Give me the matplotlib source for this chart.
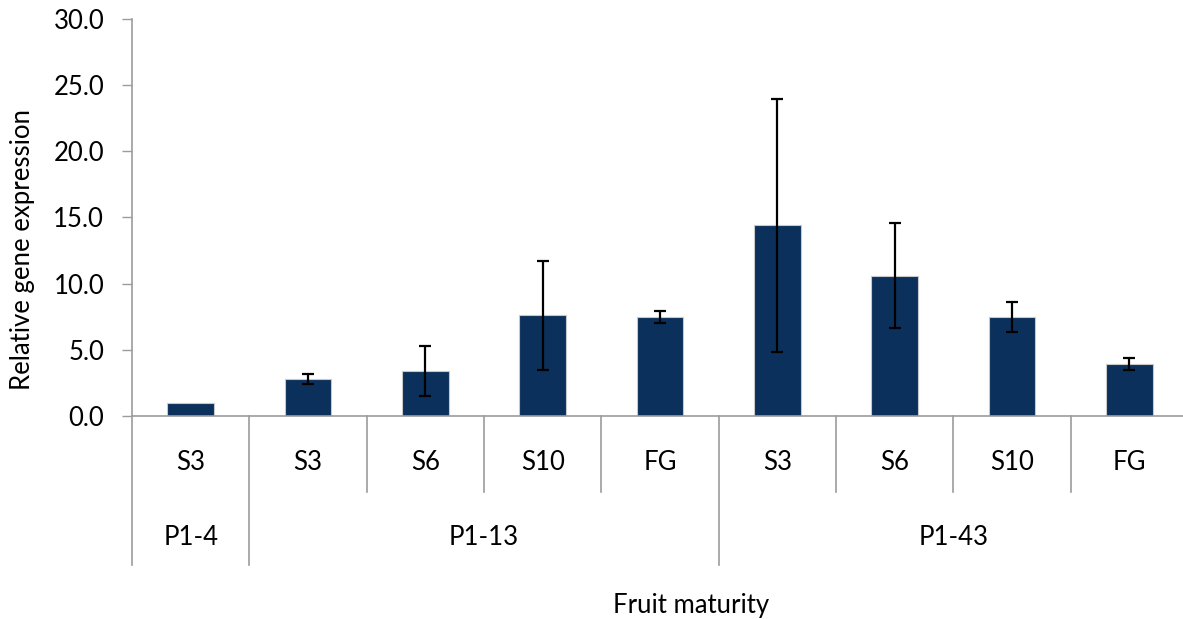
import matplotlib.pyplot as plt
from matplotlib.ticker import FormatStrFormatter

plt.rcParams["font.family"] = ["Lato", "DejaVu Sans"]

# Expression per line and maturity stage
stages = ["S3", "S3", "S6", "S10", "FG", "S3", "S6", "S10", "FG"]
groups = ["P1-4", "P1-13", "P1-43"]
group_sizes = [1, 4, 4]
expression = [1.0, 2.8, 3.4, 7.6, 7.5, 14.4, 10.6, 7.5, 3.9]
errors = [0.0, 0.35, 1.9, 4.15, 0.45, 9.55, 3.95, 1.13, 0.45]

BAR_COLOR = "#0b305c"
AXIS_COLOR = "#9c9c9c"
FS = 18.5

fig = plt.figure(figsize=(11.83, 6.19), dpi=100)
ax = fig.add_axes([132 / 1183, 203 / 619, 1056 / 1183, 397 / 619])

x = [i + 0.5 for i in range(len(stages))]
ax.bar(x, expression, width=0.4, color=BAR_COLOR, edgecolor="#c8c8c8",
       linewidth=0.8, zorder=2)

# error bars only where a spread was measured
ex = [xi for xi, e in zip(x, errors) if e > 0]
ey = [v for v, e in zip(expression, errors) if e > 0]
ee = [e for e in errors if e > 0]
ax.errorbar(ex, ey, yerr=ee, fmt="none", ecolor="black",
            elinewidth=1.6, capsize=4, capthick=1.6, zorder=3)

ax.set_xlim(0, len(stages))
ax.set_ylim(0, 30)
ax.set_yticks(range(0, 31, 5))
ax.yaxis.set_major_formatter(FormatStrFormatter("%.1f"))
ax.tick_params(axis="y", direction="out", length=7, width=1, color=AXIS_COLOR,
               labelsize=FS, pad=13)
ax.set_xticks([])

for side in ["top", "right"]:
    ax.spines[side].set_visible(False)
for side in ["left", "bottom"]:
    ax.spines[side].set_color(AXIS_COLOR)
    ax.spines[side].set_linewidth(1.2)

# Two-level category axis below the plot
trans = ax.get_xaxis_transform()
short_y, long_y = -0.191, -0.375
bounds = [0]
for n in group_sizes:
    bounds.append(bounds[-1] + n)
for i in range(len(stages) + 1):
    y_end = long_y if i in bounds else short_y
    ax.plot([i, i], [0, y_end], color=AXIS_COLOR, lw=1.2, transform=trans,
            clip_on=False)

for xi, s in zip(x, stages):
    ax.text(xi, -0.118, s, transform=trans, ha="center", va="center",
            fontsize=FS)
for g, start, n in zip(groups, bounds[:-1], group_sizes):
    ax.text(start + n / 2, -0.305, g, transform=trans, ha="center",
            va="center", fontsize=FS)

ax.set_ylabel("Relative gene expression", fontsize=FS, va="center")
ax.yaxis.set_label_coords(-0.1037, 0.42)
fig.text(691 / 1183, 1 - 605 / 619, "Fruit maturity", ha="center",
         va="center", fontsize=FS)

fig.savefig("out.png", dpi=100)
